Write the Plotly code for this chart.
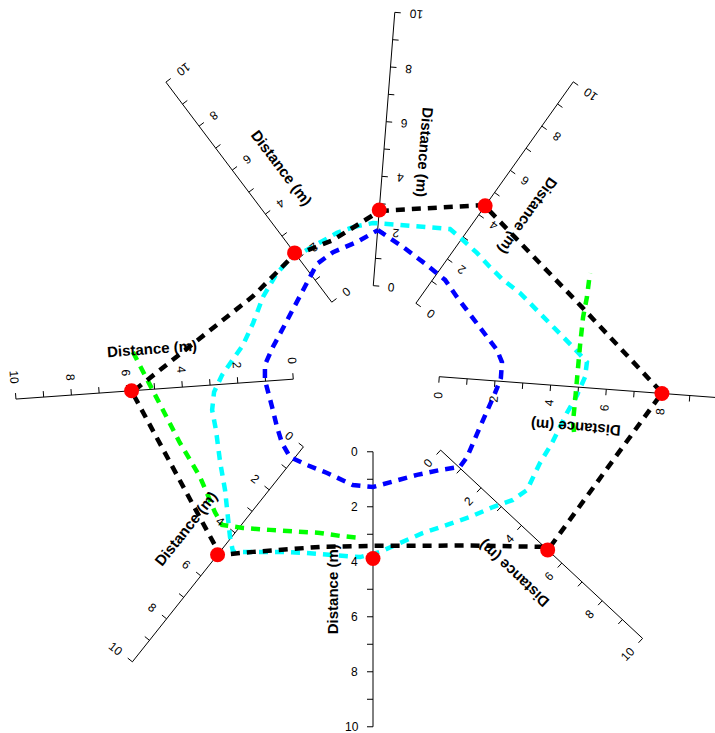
import numpy as np
import plotly.graph_objects as go

# plan coordinates are in metres; 1 m is drawn as 27.5 px
PX_PER_M = 27.5
FIG_W, FIG_H = 715, 733
ORIGIN_PX = (373.0, 380.0)

# ---- data -------------------------------------------------------------
axis_names = ["S", "SW", "W", "NW", "N", "NE", "E", "SE"]
point_dist = [3.88, 5.02, 5.83, 2.24, 2.77, 4.40, 8.00, 5.30]   # red points, m along each axis
tick_values = list(range(0, 11))
tick_labels = ["0", "2", "4", "6", "8", "10"]
axis_title = "Distance (m)"

black_x = [0.25, 4.04, 7.60, 10.51, 6.44, 3.53, 0.00, -1.93, -4.36, -5.56,
           -8.76, -4.36, -2.91, -1.45, 0.25]
black_y = [6.15, 6.36, 2.65, -0.47, -6.07, -6.02, -6.03, -6.07, -6.25, -6.36,
           -0.44, 3.05, 4.51, 5.09, 6.15]

cyan_x = [-0.73, 0.00, 0.98, 2.80, 3.27, 3.78, 4.25, 4.73, 5.35, 6.33, 7.27, 7.78,
          7.71, 7.42, 7.05, 6.51, 6.07, 5.60, 5.09, 4.36, 3.53, 2.69, 1.82, 0.98,
          0.25, -0.47, -1.45, -2.40, -3.38, -4.36, -5.09, -5.20, -5.27, -5.38,
          -5.56, -5.71, -5.85, -5.78, -5.49, -5.09, -4.73, -4.36, -4.00, -3.49,
          -3.02, -2.55, -1.93, -1.31, -0.73]
cyan_y = [5.56, 5.71, 5.64, 5.49, 5.09, 4.62, 4.11, 3.64, 3.16, 2.18, 1.20, 0.65,
          0.11, -0.55, -1.20, -2.29, -3.02, -4.00, -4.36, -4.62, -4.98, -5.27,
          -5.56, -5.93, -6.25, -6.44, -6.36, -6.29, -6.25, -6.25, -6.25, -5.71,
          -4.91, -4.00, -2.98, -1.82, -1.09, -0.44, 0.18, 0.73, 1.27, 2.07, 3.02,
          3.89, 4.40, 4.65, 5.02, 5.35, 5.56]

blue_x = [0.18, 1.09, 1.96, 2.62, 3.05, 3.89, 4.51, 4.69, 4.65, 4.44, 4.15, 3.89,
          3.64, 3.42, 3.16, 2.44, 1.60, 0.73, 0.00, -0.73, -1.67, -2.40, -3.02,
          -3.31, -3.49, -3.67, -3.93, -3.93, -3.64, -3.27, -2.91, -2.40, -2.04,
          -1.45, -0.58, 0.18]
blue_y = [5.45, 4.84, 4.18, 3.64, 3.02, 1.93, 1.09, 0.65, 0.07, -0.47, -1.09,
          -1.71, -2.29, -2.80, -3.16, -3.27, -3.45, -3.71, -3.89, -3.82, -3.38,
          -3.09, -2.80, -2.29, -1.71, -0.98, 0.00, 0.55, 1.20, 1.89, 2.55, 3.56,
          4.22, 4.65, 5.02, 5.45]

# green boundary only recorded on two stretches (gap in between)
green_x = [-8.73, -8.29, -8.00, -7.64, -7.31, -7.02, -6.65, -6.29, -6.04, -5.75,
           -5.49, -4.73, -3.75, -2.76, -1.93, -1.20, -0.40,
           None,
           7.31, 7.27, 7.35, 7.42, 7.53, 7.64, 7.78, 7.89]
green_y = [1.02, 0.18, -0.44, -1.09, -1.71, -2.29, -2.91, -3.53, -4.11, -4.80,
           -5.27, -5.38, -5.45, -5.53, -5.56, -5.67, -5.75,
           None,
           -1.89, -1.56, -0.73, 0.25, 1.27, 2.29, 3.02, 3.89]

# ---- axis geometry (start point in m, bearing ccw from east, drawn span of 10 units in m)
AXES = {
    "S":  dict(x0=0.00,  y0=-2.61, bearing=-90.0, span=10.00),
    "SW": dict(x0=-2.53, y0=-2.43, bearing=231.5, span=9.99),
    "W":  dict(x0=-2.90, y0=0.03,  bearing=184.1, span=10.11),
    "NW": dict(x0=-1.50, y0=2.83,  bearing=127.0, span=10.02),
    "N":  dict(x0=0.01,  y0=3.43,  bearing=85.5,  span=9.97),
    "NE": dict(x0=1.56,  y0=2.79,  bearing=54.6,  span=9.88),
    "E":  dict(x0=2.41,  y0=0.12,  bearing=-4.3,  span=10.15),
    "SE": dict(x0=2.46,  y0=-2.55, bearing=-43.0, span=10.04),
}
TICK_LEN_PX = 6.0
LABEL_GAP_PX = 14.7
DIGIT_HALF_PX = 3.34
TITLE_OFF_PX = 41.0
FONT = "Liberation Sans, Arial, sans-serif"


def along(ax, v, off_px=0.0):
    """Point at value v on axis ax, pushed off_px pixels to the label side."""
    a = np.radians(ax["bearing"])
    s = ax["span"] / 10.0
    ux, uy = np.cos(a), np.sin(a)
    nx, ny = np.sin(a), -np.cos(a)
    off = off_px / PX_PER_M
    return ax["x0"] + v * s * ux + off * nx, ax["y0"] + v * s * uy + off * ny


def text_angle(ax):
    a = np.radians(ax["bearing"])
    ang = np.degrees(np.arctan2(-np.cos(a), -np.sin(a)))
    return ang


def norm_angle(d):
    d = (d + 180.0) % 360.0 - 180.0
    return d


fig = go.Figure()

# axis lines and ticks
ax_x, ax_y = [], []
annotations = []
for name in axis_names:
    ax = AXES[name]
    p0 = along(ax, tick_values[0])
    p1 = along(ax, tick_values[-1])
    ax_x += [p0[0], p1[0], None]
    ax_y += [p0[1], p1[1], None]
    for v in tick_values:
        a0 = along(ax, v)
        a1 = along(ax, v, TICK_LEN_PX)
        ax_x += [a0[0], a1[0], None]
        ax_y += [a0[1], a1[1], None]
    ang = text_angle(ax)
    for lab in tick_labels:
        v = float(lab)
        lx, ly = along(ax, v, LABEL_GAP_PX + DIGIT_HALF_PX * len(lab))
        annotations.append(dict(x=lx, y=ly, text=lab, showarrow=False,
                                xanchor="center", yanchor="middle",
                                textangle=norm_angle(ang),
                                font=dict(family=FONT, size=12, color="black")))
    tx, ty = along(ax, 5.0, TITLE_OFF_PX)
    annotations.append(dict(x=tx, y=ty, text="<b>%s</b>" % axis_title, showarrow=False,
                            xanchor="center", yanchor="middle",
                            textangle=norm_angle(ang - 90.0),
                            font=dict(family=FONT, size=15, color="black")))

fig.add_trace(go.Scatter(x=ax_x, y=ax_y, mode="lines",
                         line=dict(color="black", width=1), hoverinfo="skip"))

DASH = "9px,7px"
for xs, ys, col in [(blue_x, blue_y, "#0000FF"),
                    (cyan_x, cyan_y, "#00FFFF"),
                    (green_x, green_y, "#00FF00"),
                    (black_x, black_y, "#000000")]:
    fig.add_trace(go.Scatter(x=xs, y=ys, mode="lines", connectgaps=False,
                             line=dict(color=col, width=4.5, dash=DASH)))

px_, py_ = [], []
for name, d in zip(axis_names, point_dist):
    x, y = along(AXES[name], d)
    px_.append(x)
    py_.append(y)
fig.add_trace(go.Scatter(x=px_, y=py_, mode="markers",
                         marker=dict(color="#FF0000", size=15, line=dict(width=0))))

ox, oy = ORIGIN_PX
fig.update_layout(
    width=FIG_W, height=FIG_H,
    margin=dict(l=0, r=0, t=0, b=0),
    paper_bgcolor="white", plot_bgcolor="white",
    showlegend=False,
    xaxis=dict(range=[-ox / PX_PER_M, (FIG_W - ox) / PX_PER_M], visible=False,
               fixedrange=True),
    yaxis=dict(range=[(oy - FIG_H) / PX_PER_M, oy / PX_PER_M], visible=False,
               fixedrange=True),
    annotations=annotations,
)

fig.write_html("out.html")
